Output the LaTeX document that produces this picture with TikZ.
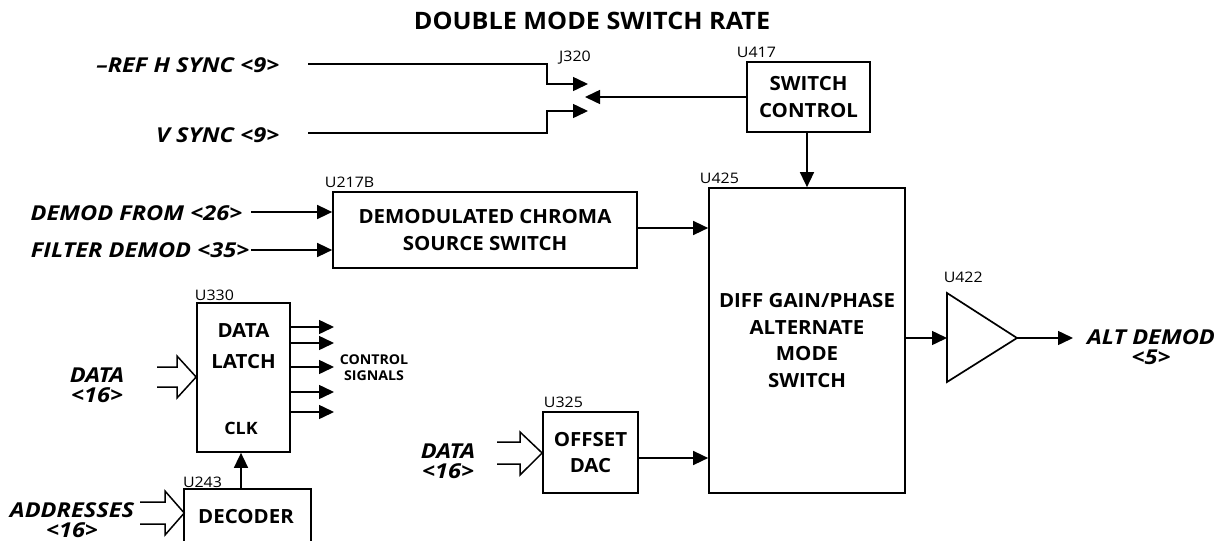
\documentclass[tikz,border=0pt]{standalone}
\usepackage{fontspec}
\setmainfont{Open Sans}[FakeStretch=1.05]
\newfontfamily\itfam{Open Sans}[FakeStretch=1.15,Ligatures=TeX]
\newfontfamily\labfam{Open Sans}[FakeStretch=1.1]
\usetikzlibrary{arrows.meta}
\begin{document}
\begin{tikzpicture}[x=1pt,y=-1pt,line width=1.5pt,
  box/.style={draw,line width=1.7pt,inner sep=0pt,align=center,font=\fontsize{19.5}{26.5}\selectfont\bfseries},
  btext/.style={inner sep=0pt,align=center,font=\fontsize{19.5}{31}\selectfont\bfseries},
  lab/.style={inner sep=0pt,anchor=south west,font=\labfam\fontsize{14.5}{16}\selectfont},
  inlab/.style={inner sep=0pt,align=center,font=\itfam\fontsize{20.5}{20}\selectfont\bfseries\itshape},
  small/.style={inner sep=0pt,align=center,font=\fontsize{13.5}{16}\selectfont\bfseries},
  sig/.style={-{Triangle[length=15pt,width=14pt]}},
  bus/.style={line width=1.5pt,line join=miter}]
\useasboundingbox (0,0) rectangle (1216,541);

% title
\node[inner sep=0pt,font=\fontsize{24}{26}\selectfont\bfseries] (title) at (592,21) {DOUBLE MODE SWITCH RATE};

% boxes
\node[box,minimum width=123pt,minimum height=70pt] (u417) at (808.5,97) {SWITCH\\CONTROL};
\node[box,minimum width=304pt,minimum height=76pt] (u217) at (485,230) {DEMODULATED CHROMA\\SOURCE SWITCH};
\node[box,minimum width=196pt,minimum height=305pt] (u425) at (807,340.5) {DIFF GAIN/PHASE\\ALTERNATE\\MODE\\SWITCH};
\node[box,minimum width=93pt,minimum height=149pt] (u330) at (243.5,377.5) {};
\node[btext] (latchtxt) at (243.5,346) {DATA\\LATCH};
\node[inner sep=0pt,font=\fontsize{17}{18}\selectfont\bfseries] (clk) at (241,428) {CLK};
\node[box,minimum width=95pt,minimum height=81pt] (u325) at (590.5,452.5) {OFFSET\\DAC};
\node[inner sep=0pt,minimum width=125pt,minimum height=52pt,anchor=north] (u243) at (247.5,489) {};
\draw[line width=1.7pt] (u243.south west) -- (u243.north west) -- (u243.north east) -- (u243.south east);
\node[inner sep=0pt,font=\fontsize{19.5}{22}\selectfont\bfseries] (dectxt) at (246,517) {DECODER};

% amplifier U422
\coordinate (tA) at (947,293);
\coordinate (tB) at (947,382);
\coordinate (u422out) at (1017,338);
\coordinate (u422in) at (947,338);
\draw[line width=1.7pt,line join=miter] (tA) -- (u422out) -- (tB) -- cycle;

% reference labels
\node[lab] (l417) at ([shift={(-10,-3)}]u417.north west) {U417};
\node[lab] (l425) at ([shift={(-9,-3)}]u425.north west) {U425};
\node[lab] (l217) at ([shift={(-8,-3)}]u217.north west) {U217B};
\node[lab] (l330) at ([shift={(-2,-1)}]u330.north west) {U330};
\node[lab] (l243) at ([shift={(-2,-1)}]u243.north west) {U243};
\node[lab] (l325) at ([shift={(1,-3)}]u325.north west) {U325};
\node[lab] (l422) at ([shift={(-4,-10)}]tA) {U422};
\node[inner sep=0pt,font=\labfam\fontsize{14.5}{16}\selectfont] (j320) at (575,58) {J320};

% sync inputs to J320
\node[inlab,anchor=east] (refh) at (280,65) {\textendash REF H SYNC \textless 9\textgreater};
\node[inlab,anchor=east] (vsync) at (280,135) {V SYNC \textless 9\textgreater};
\coordinate (j1) at (588,84);
\coordinate (j2) at (588,111);
\coordinate (j3) at (585,97);
\draw[sig] ([xshift=28pt]refh.east |- 0,64) -- (547,64) -- (547,84) -- (j1);
\draw[sig] ([xshift=28pt]vsync.east |- 0,133) -- (547,133) -- (547,111) -- (j2);
\draw[sig] (u417.west |- j3) -- (j3);
\draw[sig] (u425.north |- u417.south) -- (u425.north);

% demod inputs
\node[inlab,anchor=east] (dfrom) at (243,213) {DEMOD FROM \textless 26\textgreater};
\node[inlab,anchor=east] (filt) at (250,250) {FILTER DEMOD \textless 35\textgreater};
\coordinate (a1) at (251,212);
\coordinate (a2) at (251,250);
\draw[sig] (a1) -- (a1 -| u217.west);
\draw[sig] (a2) -- (a2 -| u217.west);
\draw[sig] (u217.east |- 0,228) -- (u425.west |- 0,228);

% offset dac to U425
\draw[sig] (u325.east |- 0,458) -- (u425.west |- 0,458);

% amplifier connections
\draw[sig] (u425.east |- u422in) -- (u422in);
\coordinate (altend) at (1073,338);
\draw[sig] (u422out) -- (altend);
\node[inlab] (alt) at (1151,347) {ALT DEMOD\\\textless 5\textgreater};

% control signals
\foreach \yy in {327,343,367,392,412}{
  \draw[sig] (u330.east |- 0,\yy) -- (334,\yy);
}
\node[small] (ctrl) at (374,368) {CONTROL\\SIGNALS};

% clk
\draw[sig] (u243.north -| clk) -- (u330.south -| clk);

% bus arrows
\node[inlab] (data1) at (97,385) {DATA\\\textless 16\textgreater};
\draw[bus] (157,367) -- (177,367) -- (177,356) -- (u330.west |- 0,377) -- (177,398) -- (177,387) -- (157,387);
\node[inlab] (addr) at (72,520) {ADDRESSES\\\textless 16\textgreater};
\draw[bus] (140,502) -- (165,502) -- (165,491) -- (u243.west |- 0,513) -- (165,535) -- (165,524) -- (140,524);
\node[inlab] (data2) at (448,461) {DATA\\\textless 16\textgreater};
\draw[bus] (497,442) -- (520,442) -- (520,432) -- (u325.west |- 0,453) -- (520,475) -- (520,464) -- (497,464);
\end{tikzpicture}
\end{document}
